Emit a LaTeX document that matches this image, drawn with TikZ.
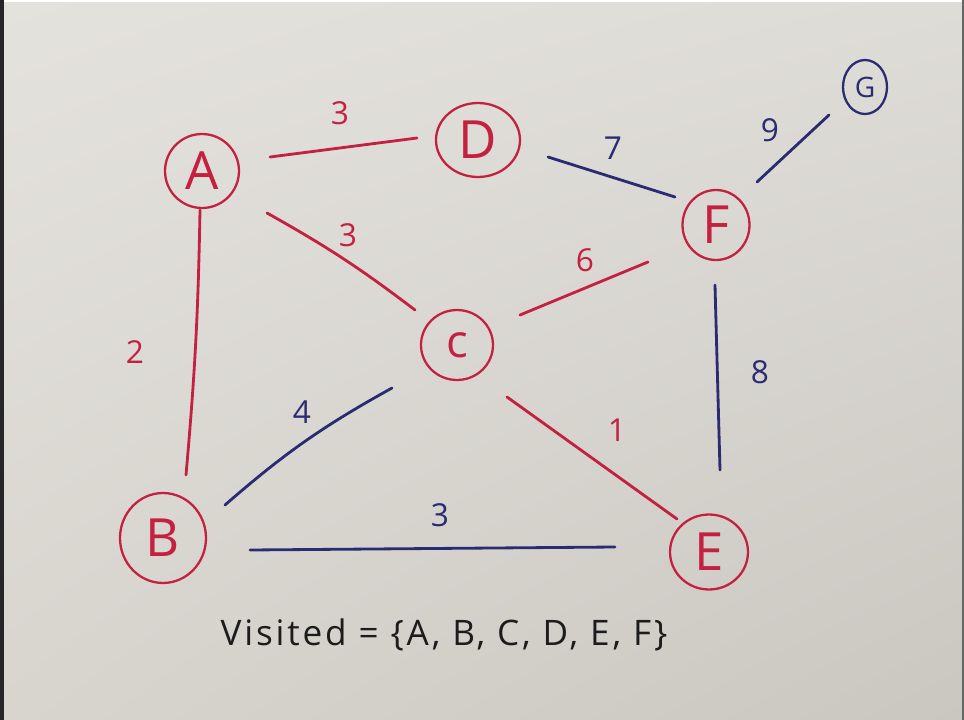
\documentclass[tikz,border=0pt]{standalone}
\usepackage{fontspec}
\setmainfont{Open Sans}
\usetikzlibrary{shapes.geometric,shadings}
\definecolor{ink red}{HTML}{C42040}
\definecolor{ink blue}{HTML}{2B2B72}
\definecolor{ink black}{HTML}{1C1C1C}
\definecolor{paper ul}{HTML}{E4E2DD}
\definecolor{paper ur}{HTML}{DEDCD7}
\definecolor{paper ll}{HTML}{D8D5CF}
\definecolor{paper lr}{HTML}{CAC7C1}
\begin{document}
\begin{tikzpicture}[x=0.02cm,y=-0.02cm,
  vertex/.style={ellipse,draw=ink red,line width=1.3pt,inner sep=0pt,text=ink red,
    font=\fontsize{30}{30}\selectfont},
  redge/.style={draw=ink red,line width=1.6pt,line cap=round},
  bedge/.style={draw=ink blue,line width=1.6pt,line cap=round},
  rlab/.style={text=ink red,font=\fontsize{18}{18}\selectfont},
  blab/.style={text=ink blue,font=\fontsize{18}{18}\selectfont}]
% paper
\useasboundingbox (0,0) rectangle (964,720);
\shade[upper left=paper ul,upper right=paper ur,lower left=paper ll,lower right=paper lr]
  (0,0) rectangle (964,720);
\fill[black!85] (0,0) rectangle (4,720);
\fill[white] (4,0) rectangle (964,2);
\fill[black!60] (962,0) rectangle (964,720);

% vertices
\node[vertex,minimum width=1.48cm,minimum height=1.48cm] (A) at (202,171) {A};
\node[vertex,minimum width=1.68cm,minimum height=1.48cm] (D) at (478,140) {D};
\node[vertex,minimum width=1.34cm,minimum height=1.40cm] (F) at (716,225) {F};
\node[vertex,minimum width=0.88cm,minimum height=1.08cm,draw=ink blue,text=ink blue,
  font=\fontsize{16}{16}\selectfont] (G) at (865,87) {G};
\node[vertex,minimum width=1.44cm,minimum height=1.40cm,font=\fontsize{26}{26}\selectfont] (C) at (457,345) {c};
\node[vertex,minimum width=1.72cm,minimum height=1.80cm] (B) at (163,538) {B};
\node[vertex,minimum width=1.56cm,minimum height=1.50cm] (E) at (709,552) {E};

% edges
\draw[redge] ([shift={(68,-14)}]A.center) -- ([shift={(-61,-2)}]D.center);
\draw[bedge] ([shift={(70,17)}]D.center) -- ([shift={(-41,-28)}]F.center);
\draw[bedge] ([shift={(41,-43)}]F.center) -- ([shift={(-36,28)}]G.center);
\draw[redge] ([shift={(65,42)}]A.center) to[bend left=4] ([shift={(-42,-35)}]C.center);
\draw[redge] ([shift={(63,-30)}]C.center) -- ([shift={(-68,37)}]F.center);
\draw[redge] ([shift={(50,52)}]C.center) -- ([shift={(-32,-33)}]E.center);
\draw[bedge] ([shift={(-1,60)}]F.center) -- ([shift={(11,-82)}]E.center);
\draw[redge] ([shift={(-2,39)}]A.center) to[bend left=2] ([shift={(23,-63)}]B.center);
\draw[bedge] ([shift={(62,-33)}]B.center) to[bend left=6] ([shift={(-65,43)}]C.center);
\draw[bedge] ([shift={(87,12)}]B.center) -- ([shift={(-94,-5)}]E.center);

% weights
\node[rlab] (wAD) at (340,113) {3};
\node[blab] (wDF) at (613,148) {7};
\node[blab] (wFG) at (770,130) {9};
\node[rlab] (wAC) at (348,235) {3};
\node[rlab] (wCF) at (585,260) {6};
\node[rlab] (wAB) at (135,352) {2};
\node[blab] (wFE) at (760,372) {8};
\node[blab] (wBC) at (302,412) {4};
\node[rlab] (wCE) at (617,430) {1};
\node[blab] (wBE) at (440,515) {3};

% visited set
\node[text=ink black,font=\fontsize{20}{20}\selectfont\addfontfeatures{LetterSpace=8}] (visited) at (444,635)
  {Visited = \{A, B, C, D, E, F\}};
\end{tikzpicture}
\end{document}
